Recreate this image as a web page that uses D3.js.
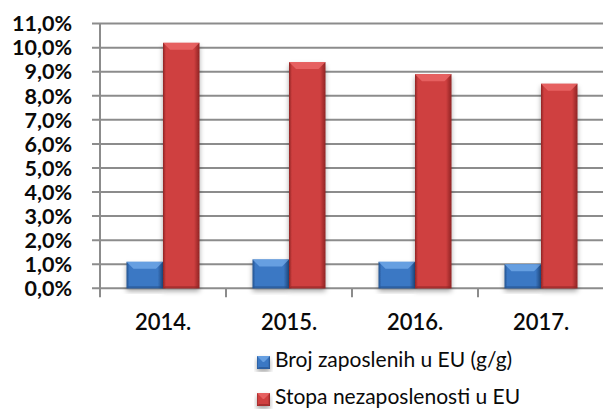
<!DOCTYPE html>
<html>
<head>
<meta charset="utf-8">
<script src="https://cdn.jsdelivr.net/npm/d3@7"></script>
<style>
  body { margin: 0; background: #fff; }
  svg { display: block; }
  text { font-family: Lato, "Open Sans", sans-serif; font-weight: bold; fill: #0a0a0a; }
</style>
</head>
<body>
<svg id="chart" width="603" height="419"></svg>
<script>
// podaci
var years = ["2014.", "2015.", "2016.", "2017."];
var zaposleni = [1.1, 1.2, 1.1, 1.0];      // Broj zaposlenih u EU (g/g)
var nezaposlenost = [10.2, 9.4, 8.9, 8.5];  // Stopa nezaposlenosti u EU
var seriesNames = ["Broj zaposlenih u EU (g/g)", "Stopa nezaposlenosti u EU"];
var yTicks = [0, 1, 2, 3, 4, 5, 6, 7, 8, 9, 10, 11];

// boje: [osnovna, svjetla (gornji rub), tamna (bočni rub)]
var colors = [
    { base: "#3b78c4", light: "#6fa6e6", dark: "#24508c" },
    { base: "#cf3f3f", light: "#ea6666", dark: "#8e2424" }
];

var svg = d3.select("#chart");
var margin = { left: 100, right: 0, top: 24, bottom: 131 };
var W = 603, H = 419;

var x = d3.scaleBand().domain(years).range([margin.left, 604]).paddingInner(0).paddingOuter(0);
var xs = d3.scaleBand().domain([0, 1]).range([0, x.bandwidth()]).paddingInner(0).paddingOuter(0.726);
var y = d3.scaleLinear().domain([0, 11]).range([288.3, 23.6]);

var defs = svg.append("defs");
var f = defs.append("filter").attr("id", "shadow").attr("x", "-20%").attr("y", "-20%").attr("width", "140%").attr("height", "140%");
f.append("feDropShadow").attr("dx", 0).attr("dy", 3).attr("stdDeviation", 2.5)
    .attr("flood-color", "#000").attr("flood-opacity", 0.35);

colors.forEach(function (c, i) {
    var g = defs.append("linearGradient").attr("id", "grad" + i)
        .attr("x1", "0").attr("x2", "1").attr("y1", "0").attr("y2", "0");
    g.append("stop").attr("offset", "0").attr("stop-color", c.dark);
    g.append("stop").attr("offset", "0.08").attr("stop-color", c.base);
    g.append("stop").attr("offset", "0.85").attr("stop-color", c.base);
    g.append("stop").attr("offset", "1").attr("stop-color", c.dark);
});

// mreža
var grid = svg.append("g");
grid.selectAll("line").data(yTicks).enter().append("line")
    .attr("x1", margin.left - 8).attr("x2", W)
    .attr("y1", function (d) { return y(d); })
    .attr("y2", function (d) { return y(d); })
    .attr("stroke", "#8c8c8c").attr("stroke-width", 2);

// y os
svg.append("line").attr("x1", margin.left).attr("x2", margin.left)
    .attr("y1", y(11)).attr("y2", y(0) + 9)
    .attr("stroke", "#8c8c8c").attr("stroke-width", 2);

// x ticks na granicama kategorija
var bounds = years.map(function (d) { return x(d); }).slice(1);
svg.selectAll(".xtick").data(bounds).enter().append("line")
    .attr("x1", function (d) { return d; }).attr("x2", function (d) { return d; })
    .attr("y1", y(0)).attr("y2", y(0) + 9)
    .attr("stroke", "#8c8c8c").attr("stroke-width", 2);

// oznake y osi
svg.append("g").selectAll("text").data(yTicks).enter().append("text")
    .attr("x", 72).attr("y", function (d) { return y(d); })
    .attr("dy", "0.36em").attr("text-anchor", "end")
    .style("font-size", "21.5px")
    .text(function (d) { return d.toFixed(1).replace(".", ",") + "%"; });

// oznake x osi
svg.append("g").selectAll("text").data(years).enter().append("text")
    .attr("x", function (d) { return x(d) + x.bandwidth() / 2; })
    .attr("y", 330).attr("text-anchor", "middle")
    .style("font-size", "22px").style("font-weight", "600")
    .text(function (d) { return d; });

// stupci s "bevel" efektom
function bevelBar(g, bx, by, bw, bh, c, i) {
    var b = Math.min(7, bh / 2.2);
    var grp = g.append("g");
    grp.append("rect").attr("x", bx).attr("y", by).attr("width", bw).attr("height", bh)
        .attr("fill", "url(#grad" + i + ")").attr("filter", "url(#shadow)");
    grp.append("path")
        .attr("d", "M" + bx + "," + by + "L" + (bx + bw) + "," + by +
            "L" + (bx + bw - b) + "," + (by + b) + "L" + (bx + b) + "," + (by + b) + "Z")
        .attr("fill", c.light).attr("opacity", 0.85);
    grp.append("path")
        .attr("d", "M" + bx + "," + (by + bh) + "L" + (bx + bw) + "," + (by + bh) +
            "L" + (bx + bw - 2) + "," + (by + bh - 2) + "L" + (bx + 2) + "," + (by + bh - 2) + "Z")
        .attr("fill", c.dark).attr("opacity", 0.6);
}

var series = [zaposleni, nezaposlenost];
var bars = svg.append("g");
years.forEach(function (yr, j) {
    series.forEach(function (s, i) {
        bevelBar(bars, x(yr) + xs(i), y(s[j]), xs.bandwidth(), y(0) - y(s[j]), colors[i], i);
    });
});

// legenda
var legend = svg.append("g");
var legY = [364, 401];
seriesNames.forEach(function (name, i) {
    bevelBar(legend, 257, legY[i] - 8, 13, 13, colors[i], i);
    legend.append("text").attr("x", 275).attr("y", legY[i] + 3)
        .style("font-size", "21px").style("font-weight", "normal")
        .text(name);
});
</script>
</body>
</html>
